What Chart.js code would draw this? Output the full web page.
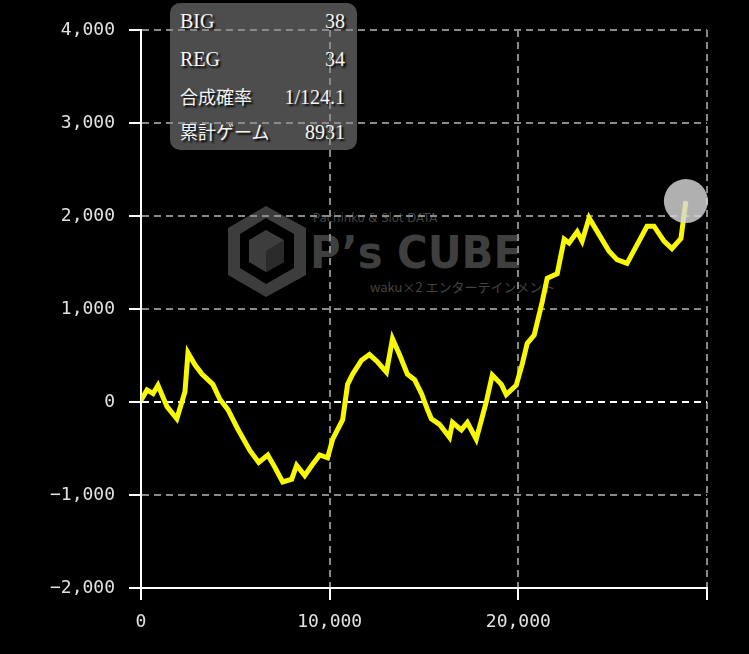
<!DOCTYPE html>
<html>
<head>
<meta charset="utf-8">
<script src="https://cdn.jsdelivr.net/npm/chart.js@4"></script>
<style>
  html, body { margin: 0; padding: 0; background: #000; }
  #wrap { position: relative; width: 749px; height: 654px; overflow: hidden; }
  #chart { position: absolute; left: 0; top: 0; z-index: 2; }
  #mark { position: absolute; left: 0; top: 0; z-index: 0; }
  #info {
    position: absolute; left: 170px; top: 3px; width: 187px; height: 147px;
    background: #4d4d4d; border-radius: 10px; z-index: 1;
    font-family: "Liberation Serif", "Noto Sans CJK JP", serif; font-size: 20px; color: #f4f4f4;
    text-shadow: 2px 2px 2px #000;
  }
  #info .row { position: absolute; left: 10px; right: 12px; height: 24px; line-height: 24px; }
  #info .row span:last-child { position: absolute; right: 0; }
  #info .jp { font-size: 18px; }
</style>
</head>
<body>
<div id="wrap">
  <!-- ウォーターマーク -->
  <svg id="mark" width="749" height="654">
    <g fill="#3d3d3d">
      <polygon points="266,206 306,228 306,275 266,297 228,275 228,228 266,206"/>
    </g>
    <g fill="#000">
      <polygon points="266,218 294,234 294,268 266,284 240,268 240,234"/>
    </g>
    <g fill="#3d3d3d">
      <polygon points="266,230 284,240 284,262 266,272 249,262 249,240"/>
    </g>
    <g fill="#2a2a2a">
      <polygon points="266,251 284,240 284,262 266,272"/>
    </g>
    <text x="313" y="222" font-family="DejaVu Sans Condensed, DejaVu Sans" font-size="13" fill="#444">Pachinko &amp; Slot DATA</text>
    <text x="310" y="268" font-family="DejaVu Sans, sans-serif" font-weight="bold" font-size="44" fill="#3f3f3f" textLength="212" lengthAdjust="spacingAndGlyphs">P’s CUBE</text>
    <text x="370" y="292" font-family="Noto Sans CJK JP, DejaVu Sans" font-size="13" fill="#444">waku×2 エンターテインメント</text>
  </svg>

  <!-- 情報ボックス -->
  <div id="info">
    <div class="row" style="top:6px"><span>BIG</span><span>38</span></div>
    <div class="row" style="top:44px"><span>REG</span><span>34</span></div>
    <div class="row" style="top:82px"><span class="jp">合成確率</span><span>1/124.1</span></div>
    <div class="row" style="top:117px"><span class="jp">累計ゲーム</span><span>8931</span></div>
  </div>

  <canvas id="chart" width="749" height="654"></canvas>
</div>

<script>
// ゲーム数 (x)
const games = [0, 320, 640, 900, 1380, 1900, 2330, 2490, 2860, 3230,
  3810, 4180, 4600, 5130, 5770, 6240, 6720, 7090, 7510, 7990,
  8250, 8680, 9100, 9470, 9890, 10160, 10690, 10950, 11220, 11690,
  12110, 12540, 13010, 13330, 13700, 14120, 14500, 14870, 15180, 15390,
  15820, 16350, 16510, 16980, 17300, 17770, 18300, 18620, 19100, 19360,
  19890, 20210, 20470, 20840, 21270, 21530, 22060, 22430, 22690, 23120,
  23380, 23750, 24280, 24810, 25230, 25760, 26290, 26820, 27190, 27720,
  28140, 28620, 28880];

// 差枚数 (y)
const diff = [20, 130, 90, 180, -50, -180, 110, 530, 400, 300,
  190, 30, -80, -290, -520, -650, -570, -700, -860, -830,
  -680, -790, -670, -570, -600, -400, -190, 190, 300, 450,
  510, 430, 320, 680, 510, 300, 240, 90, -80, -180,
  -240, -380, -220, -300, -220, -400, 0, 290, 190, 80,
  180, 410, 630, 720, 1080, 1330, 1380, 1750, 1710, 1830,
  1730, 1980, 1800, 1620, 1530, 1490, 1690, 1890, 1890, 1730,
  1650, 1760, 2160];

// 軸の範囲
const xMin = 0, xMax = 30000, xStep = 10000;
const yMin = -2000, yMax = 4000, yStep = 1000;

const points = games.map((g, i) => ({ x: g, y: diff[i] }));
const lastPoint = [points[points.length - 1]];

const fmt = v => v.toLocaleString('en-US').replace('-', '\u2212');

const tickFont = { family: 'DejaVu Sans Mono', size: 18 };

new Chart(document.getElementById('chart'), {
  type: 'line',
  data: {
    datasets: [
      {
        // 最終地点の丸
        data: lastPoint,
        showLine: false,
        pointRadius: 22,
        pointHoverRadius: 22,
        pointBackgroundColor: 'rgba(215,215,215,0.82)',
        pointBorderWidth: 0,
        clip: false,
        order: 0
      },
      {
        data: points,
        borderColor: '#f8f800',
        borderWidth: 5,
        pointRadius: 0,
        tension: 0,
        fill: false,
        order: 1
      }
    ]
  },
  options: {
    responsive: false,
    animation: false,
    devicePixelRatio: 1,
    layout: { padding: { left: 0, right: 42, top: 30, bottom: 0 } },
    plugins: { legend: { display: false }, tooltip: { enabled: false } },
    scales: {
      x: {
        type: 'linear',
        min: xMin, max: xMax,
        afterFit: s => { s.height = 66; },
        ticks: {
          stepSize: xStep,
          color: '#e2e2e2',
          font: tickFont,
          padding: 12,
          maxRotation: 0,
          callback: v => v === xMax ? '' : fmt(v)
        },
        grid: {
          color: '#8a8a8a',
          lineWidth: 2,
          tickColor: '#fff',
          tickLength: 12
        },
        border: { color: '#fff', width: 2, dash: [7, 5] }
      },
      y: {
        min: yMin, max: yMax,
        afterFit: s => { s.width = 141; },
        ticks: {
          stepSize: yStep,
          color: '#e2e2e2',
          font: tickFont,
          padding: 14,
          callback: v => fmt(v)
        },
        grid: {
          color: c => c.tick && c.tick.value === 0 ? '#ffffff' : '#8a8a8a',
          lineWidth: 2,
          tickColor: '#fff',
          tickLength: 12
        },
        border: { color: '#fff', width: 2, dash: [7, 5] }
      }
    }
  }
});
</script>
</body>
</html>
